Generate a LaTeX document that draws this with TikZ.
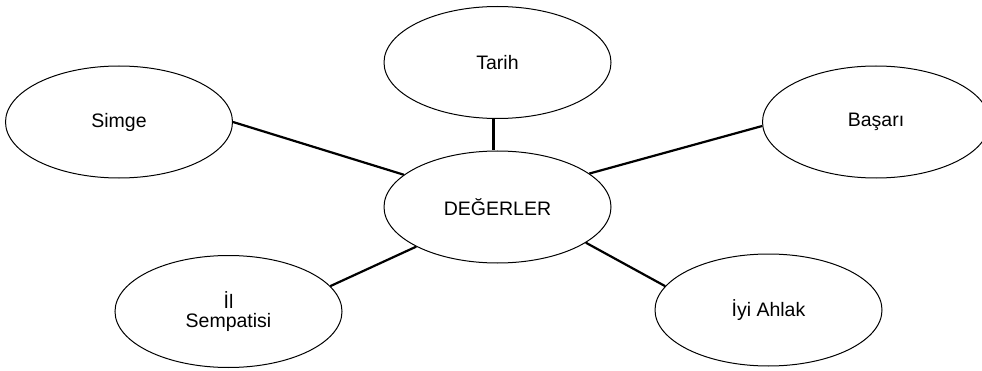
\documentclass[tikz,border=0pt]{standalone}
\usepackage{fontspec}
\setmainfont{Liberation Sans}
\usetikzlibrary{shapes.geometric}
\begin{document}
\begin{tikzpicture}[x=1pt,y=1pt,
  bubble/.style={ellipse, draw, line width=1pt, minimum width=227pt, minimum height=112pt,
    inner sep=0pt, align=center, font=\fontsize{19.5}{19}\selectfont},
  link/.style={line width=2.2pt}]
  \useasboundingbox (0,0) rectangle (982,370);

  % value bubbles
  \node[bubble] (val)    at (497.5,163)  {DEĞERLER};
  \node[bubble] (tarih)  at (497.5,307.5) {Tarih};
  \node[bubble] (simge)  at (119,248)    {Simge};
  \node[bubble] (basari) at (876,248)    {Başarı};
  \node[bubble] (il)     at (228.5,58.5) {İl\\Sempatisi};
  \node[bubble] (iyi)    at (768.5,60)   {İyi Ahlak};

  % spokes from the centre bubble
  \draw[link] ([xshift=-4pt]tarih.south) -- ([xshift=-4pt]val.north);
  \draw[link] (simge.east) -- (val.161.5);
  \draw[link] (basari.182.5) -- (val.20.6);
  \draw[link] (il.14.9) -- (val.206.4);
  \draw[link] (iyi.167.9) -- (val.-22.4);
\end{tikzpicture}
\end{document}
